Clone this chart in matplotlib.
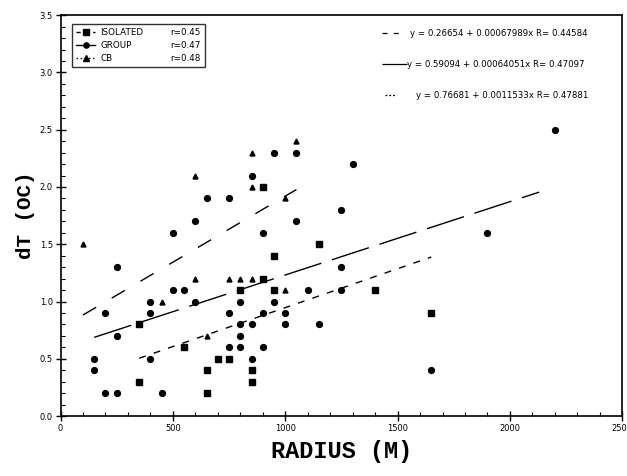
import matplotlib
matplotlib.use("Agg")
import matplotlib.pyplot as plt
import numpy as np
from matplotlib.lines import Line2D
from matplotlib.ticker import MultipleLocator

# scatter data (radius in m, dT in degC)
iso_x = [350, 350, 550, 650, 650, 700, 750, 800, 850, 850, 900, 900, 950, 950, 1150, 1400, 1650]
iso_y = [0.8, 0.3, 0.6, 0.4, 0.2, 0.5, 0.5, 1.1, 0.4, 0.3, 1.2, 2.0, 1.4, 1.1, 1.5, 1.1, 0.9]

grp_x = [150, 150, 200, 200, 250, 250, 250, 400, 400, 400, 450, 500, 500, 550, 600, 600,
         650, 750, 750, 750, 800, 800, 800, 800, 850, 850, 850, 950, 1050, 900, 900, 900,
         950, 1000, 1000, 1050, 1100, 1150, 1250, 1250, 1250, 1300, 1650, 1900, 2200]
grp_y = [0.5, 0.4, 0.9, 0.2, 1.3, 0.7, 0.2, 1.0, 0.9, 0.5, 0.2, 1.6, 1.1, 1.1, 1.7, 1.0,
         1.9, 1.9, 0.9, 0.6, 1.0, 0.8, 0.7, 0.6, 2.1, 0.8, 0.5, 2.3, 2.3, 1.6, 0.9, 0.6,
         1.0, 0.9, 0.8, 1.7, 1.1, 0.8, 1.8, 1.3, 1.1, 2.2, 0.4, 1.6, 2.5]

cb_x = [100, 450, 600, 600, 650, 750, 800, 850, 850, 850, 1000, 1000, 1050]
cb_y = [1.5, 1.0, 2.1, 1.2, 0.7, 1.2, 1.2, 2.3, 2.0, 1.2, 1.9, 1.1, 2.4]

# linear fits as printed on the figure: intercept, slope, R, x-range
fit_names = ["ISOLATED", "GROUP", "CB"]
fit_a = [0.26654, 0.59094, 0.76681]
fit_b = [0.00067989, 0.00064051, 0.0011533]
fit_r = [0.44584, 0.47097, 0.47881]
fit_r_short = ["r=0.45", "r=0.47", "r=0.48"]
fit_xmin = [350, 150, 100]
fit_xmax = [1650, 2130, 1050]

dashes = [(5, 6), (28, 8), (11, 13)]
markers = ["s", "o", "^"]

fig = plt.figure(figsize=(6.27, 4.76), dpi=100)
ax = fig.add_axes([0.0965, 0.126, 0.896, 0.842])

ms = 4.2
ax.plot(iso_x, iso_y, "s", color="black", ms=ms * 0.9, ls="none")
ax.plot(grp_x, grp_y, "o", color="black", ms=ms, ls="none")
ax.plot(cb_x, cb_y, "^", color="black", ms=ms * 0.85, ls="none")

for a, b, x0, x1, d in zip(fit_a, fit_b, fit_xmin, fit_xmax, dashes):
    xs = np.array([x0, x1])
    ax.plot(xs, a + b * xs, color="black", lw=1.0, dashes=d)

ax.set_xlim(0, 2500)
ax.set_ylim(0, 3.5)
ax.xaxis.set_major_locator(MultipleLocator(500))
ax.xaxis.set_minor_locator(MultipleLocator(100))
ax.yaxis.set_major_locator(MultipleLocator(0.5))
ax.yaxis.set_minor_locator(MultipleLocator(0.1))
ax.set_yticklabels([f"{v:.1f}" for v in ax.get_yticks()])
ax.tick_params(which="major", direction="inout", length=7, width=1.0, labelsize=6, pad=2)
ax.tick_params(which="minor", direction="in", length=3, width=0.8)
for s in ax.spines.values():
    s.set_linewidth(1.2)

ax.set_xlabel("RADIUS (M)", family="Liberation Mono", fontweight="bold", fontsize=17, labelpad=5)
ax.set_ylabel("dT (OC)", family="Liberation Mono", fontweight="bold", fontsize=15, labelpad=3)

# legend: names in first column, correlation coefficients in second
handles = [Line2D([], [], color="black", marker=m, ms=ms * 0.9, lw=1.0, dashes=d if i != 1 else (None, None))
           for i, (m, d) in enumerate(zip(markers, [(3, 3), (1, 0), (1, 2)]))]
blank = [Line2D([], [], color="none") for _ in range(3)]
leg = ax.legend(handles + blank, fit_names + fit_r_short, ncol=2, loc="upper left",
                bbox_to_anchor=(0.012, 0.99), fontsize=6.3, frameon=True, fancybox=False,
                edgecolor="black", handlelength=2.2, columnspacing=0.2, handletextpad=0.6,
                borderpad=0.5, labelspacing=0.45)
leg.get_frame().set_linewidth(1.0)

# fit equations in the upper right
eq_y = [0.955, 0.878, 0.80]
sample_x = [(0.572, 0.606), (0.572, 0.616), (0.578, 0.596)]
text_x = [0.622, 0.617, 0.632]
for i in range(3):
    ax.add_line(Line2D(list(sample_x[i]), [eq_y[i]] * 2, transform=ax.transAxes,
                       color="black", lw=0.9, dashes=[(4, 5), (1, 0), (1.5, 1.5)][i]))
    ax.text(text_x[i], eq_y[i], f"y = {fit_a[i]:.5f} + {fit_b[i]:.8g}x R= {fit_r[i]:.5f}",
            transform=ax.transAxes, fontsize=6.2, va="center", ha="left")

fig.savefig("out.png", dpi=100)
